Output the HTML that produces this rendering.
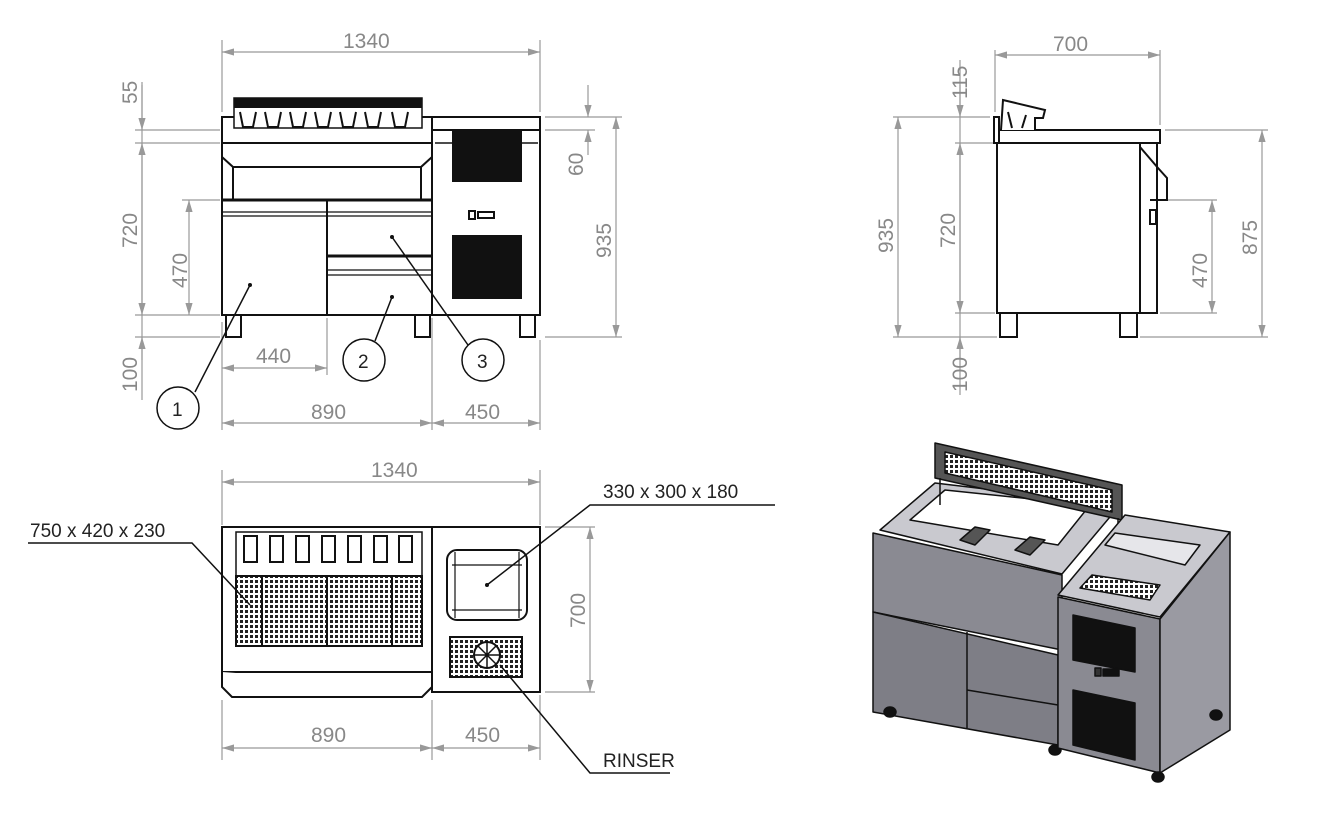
<!DOCTYPE html>
<html><head><meta charset="utf-8"><style>
html,body{margin:0;padding:0;background:#fff;}
svg{display:block;}
text{font-family:"Liberation Sans",sans-serif;}
.d{fill:#888;font-size:21px;}
.t{fill:#222;font-size:19px;}
</style></head><body>
<svg width="1320" height="823" viewBox="0 0 1320 823" xmlns="http://www.w3.org/2000/svg">
<defs>
<marker id="a" viewBox="0 0 10 6" refX="10" refY="3" markerWidth="10" markerHeight="6" orient="auto-start-reverse"><path d="M0,0L10,3L0,6z" fill="#999"/></marker>
<pattern id="grid" width="5" height="5" patternUnits="userSpaceOnUse"><rect width="5" height="5" fill="#fff"/><rect width="3" height="3" fill="#222"/></pattern>
</defs>

<!-- ============ FRONT VIEW ============ -->
<g stroke="#999" stroke-width="1.2" fill="none">
<line x1="222" y1="40" x2="222" y2="112"/><line x1="540" y1="40" x2="540" y2="112"/>
<line x1="222" y1="52" x2="540" y2="52" marker-start="url(#a)" marker-end="url(#a)"/>
<line x1="142" y1="82" x2="142" y2="400"/>
<line x1="142" y1="85" x2="142" y2="130" marker-end="url(#a)"/>
<line x1="142" y1="143" x2="142" y2="315" marker-start="url(#a)" marker-end="url(#a)"/>
<line x1="142" y1="337" x2="142" y2="360" marker-start="url(#a)"/>
<line x1="135" y1="130" x2="220" y2="130"/><line x1="135" y1="143" x2="220" y2="143"/>
<line x1="135" y1="315" x2="220" y2="315"/><line x1="135" y1="337" x2="220" y2="337"/>
<line x1="182" y1="200" x2="220" y2="200"/>
<line x1="189" y1="200" x2="189" y2="315" marker-start="url(#a)" marker-end="url(#a)"/>
<line x1="222" y1="322" x2="222" y2="430"/><line x1="327" y1="318" x2="327" y2="375"/>
<line x1="432" y1="318" x2="432" y2="430"/><line x1="540" y1="340" x2="540" y2="430"/>
<line x1="222" y1="368" x2="327" y2="368" marker-start="url(#a)" marker-end="url(#a)"/>
<line x1="222" y1="423" x2="432" y2="423" marker-start="url(#a)" marker-end="url(#a)"/>
<line x1="432" y1="423" x2="540" y2="423" marker-start="url(#a)" marker-end="url(#a)"/>
<line x1="545" y1="117" x2="622" y2="117"/><line x1="545" y1="130" x2="595" y2="130"/>
<line x1="545" y1="337" x2="622" y2="337"/>
<line x1="588" y1="85" x2="588" y2="117" marker-end="url(#a)"/>
<line x1="588" y1="130" x2="588" y2="155" marker-start="url(#a)"/>
<line x1="616" y1="117" x2="616" y2="337" marker-start="url(#a)" marker-end="url(#a)"/>
</g>
<g class="d">
<text x="343" y="48">1340</text>
<text x="256" y="363">440</text>
<text x="311" y="419">890</text>
<text x="465" y="419">450</text>
<text transform="translate(137,104) rotate(-90)">55</text>
<text transform="translate(137,248) rotate(-90)">720</text>
<text transform="translate(137,392) rotate(-90)">100</text>
<text transform="translate(187,288) rotate(-90)">470</text>
<text transform="translate(583,176) rotate(-90)">60</text>
<text transform="translate(611,258) rotate(-90)">935</text>
</g>
<g stroke="#111" stroke-width="2" fill="#fff">
<rect x="222" y="117" width="210" height="26"/>
<rect x="432" y="117" width="108" height="198"/>
<line x1="432" y1="130" x2="540" y2="130"/>
<line x1="435" y1="143" x2="538" y2="143" stroke-width="1.5"/>
<rect x="222" y="143" width="210" height="172"/>
<path d="M222,157 L233,167 L233,200 M432,157 L421,167 L421,200 M233,167 L421,167" fill="none"/>
<line x1="222" y1="200" x2="432" y2="200" stroke-width="3"/>
<line x1="327" y1="200" x2="327" y2="315"/>
<line x1="222" y1="212" x2="432" y2="212" stroke-width="1.2"/>
<line x1="222" y1="216" x2="432" y2="216" stroke-width="1.2"/>
<line x1="327" y1="256" x2="432" y2="256" stroke-width="3"/>
<line x1="327" y1="270" x2="432" y2="270" stroke-width="1.2"/>
<line x1="327" y1="275" x2="432" y2="275" stroke-width="1.2"/>
<rect x="226" y="315" width="15" height="22"/>
<rect x="415" y="315" width="15" height="22"/>
<rect x="520" y="315" width="15" height="22"/>
<rect x="234" y="98" width="188" height="30" stroke-width="1.5"/>
</g>
<g fill="#111">
<rect x="234" y="98" width="188" height="10"/>
<rect x="452" y="130" width="70" height="52"/>
<rect x="452" y="235" width="70" height="64"/>
<rect x="469" y="211" width="6" height="8" fill="none" stroke="#111" stroke-width="2"/>
<rect x="478" y="212" width="16" height="6" fill="none" stroke="#111" stroke-width="2"/>
</g>
<g fill="none" stroke="#111" stroke-width="2">
<path d="M240,112 l3,15 h10 l3,-15 M265,112 l3,15 h10 l3,-15 M290,112 l3,15 h10 l3,-15 M315,112 l3,15 h10 l3,-15 M340,112 l3,15 h10 l3,-15 M365,112 l3,15 h10 l3,-15 M392,112 l3,15 h10 l3,-15"/>
</g>
<g stroke="#111" stroke-width="1.5" fill="#fff">
<line x1="195" y1="392" x2="250" y2="285"/>
<line x1="375" y1="341" x2="392" y2="297"/>
<line x1="468" y1="345" x2="392" y2="237"/>
<circle cx="178" cy="408" r="21"/><circle cx="364" cy="360" r="21"/><circle cx="483" cy="360" r="21"/>
</g>
<g fill="#111"><circle cx="250" cy="285" r="2"/><circle cx="392" cy="297" r="2"/><circle cx="392" cy="237" r="2"/></g>
<g class="t" font-size="21"><text x="172" y="416">1</text><text x="358" y="368">2</text><text x="477" y="368">3</text></g>

<!-- ============ SIDE VIEW ============ -->
<g stroke="#999" stroke-width="1.2" fill="none">
<line x1="995" y1="50" x2="995" y2="112"/><line x1="1160" y1="50" x2="1160" y2="125"/>
<line x1="995" y1="55" x2="1160" y2="55" marker-start="url(#a)" marker-end="url(#a)"/>
<line x1="893" y1="117" x2="990" y2="117"/><line x1="893" y1="337" x2="997" y2="337"/>
<line x1="955" y1="143" x2="995" y2="143"/><line x1="955" y1="313" x2="995" y2="313"/>
<line x1="898" y1="117" x2="898" y2="337" marker-start="url(#a)" marker-end="url(#a)"/>
<line x1="960" y1="60" x2="960" y2="395"/>
<line x1="960" y1="85" x2="960" y2="117" marker-end="url(#a)"/>
<line x1="960" y1="143" x2="960" y2="313" marker-start="url(#a)" marker-end="url(#a)"/>
<line x1="960" y1="337" x2="960" y2="360" marker-start="url(#a)"/>
<line x1="1165" y1="130" x2="1268" y2="130"/><line x1="1140" y1="337" x2="1268" y2="337"/>
<line x1="1165" y1="200" x2="1217" y2="200"/><line x1="1160" y1="313" x2="1217" y2="313"/>
<line x1="1212" y1="200" x2="1212" y2="313" marker-start="url(#a)" marker-end="url(#a)"/>
<line x1="1262" y1="130" x2="1262" y2="337" marker-start="url(#a)" marker-end="url(#a)"/>
</g>
<g class="d">
<text x="1053" y="51">700</text>
<text transform="translate(967,99) rotate(-90)">115</text>
<text transform="translate(955,248) rotate(-90)">720</text>
<text transform="translate(967,392) rotate(-90)">100</text>
<text transform="translate(893,253) rotate(-90)">935</text>
<text transform="translate(1207,288) rotate(-90)">470</text>
<text transform="translate(1257,255) rotate(-90)">875</text>
</g>
<g stroke="#111" stroke-width="2" fill="#fff">
<rect x="997" y="143" width="143" height="170"/>
<rect x="1140" y="143" width="17" height="170"/>
<rect x="995" y="130" width="165" height="13"/>
<rect x="994" y="117" width="5" height="26"/>
<path d="M1001,130 L1003,100 L1045,110 L1043,118 L1035,118 L1035,130" fill="#fff"/>
<path d="M1008,112 L1012,128 M1026,115 L1022,128" fill="none"/>
<path d="M1140,147 L1158,168 L1167,178 L1167,200 L1150,200" fill="none"/>
<path d="M1150,210 l6,0 l0,14 l-6,0z"/>
<rect x="1000" y="313" width="17" height="24"/>
<rect x="1120" y="313" width="17" height="24"/>
</g>

<!-- ============ PLAN VIEW ============ -->
<g stroke="#999" stroke-width="1.2" fill="none">
<line x1="222" y1="470" x2="222" y2="525"/><line x1="540" y1="470" x2="540" y2="525"/>
<line x1="222" y1="482" x2="540" y2="482" marker-start="url(#a)" marker-end="url(#a)"/>
<line x1="222" y1="700" x2="222" y2="760"/><line x1="432" y1="700" x2="432" y2="760"/><line x1="540" y1="695" x2="540" y2="760"/>
<line x1="222" y1="748" x2="432" y2="748" marker-start="url(#a)" marker-end="url(#a)"/>
<line x1="432" y1="748" x2="540" y2="748" marker-start="url(#a)" marker-end="url(#a)"/>
<line x1="545" y1="527" x2="595" y2="527"/><line x1="545" y1="692" x2="595" y2="692"/>
<line x1="590" y1="527" x2="590" y2="692" marker-start="url(#a)" marker-end="url(#a)"/>
</g>
<g class="d">
<text x="371" y="477">1340</text>
<text x="311" y="742">890</text>
<text x="465" y="742">450</text>
<text transform="translate(585,628) rotate(-90)">700</text>
</g>
<g stroke="#111" stroke-width="2" fill="#fff">
<path d="M222,527 H432 V672 H222 Z"/>
<path d="M222,672 L222,687 L232,697 L422,697 L432,687"/>
<rect x="432" y="527" width="108" height="165"/>
<rect x="236" y="532" width="186" height="44" stroke-width="1.5"/>
<rect x="236" y="576" width="186" height="70" fill="url(#grid)"/>
<rect x="447" y="550" width="80" height="70" rx="10"/>
<line x1="452" y1="565" x2="522" y2="565" stroke-width="1.2"/><line x1="452" y1="610" x2="522" y2="610" stroke-width="1.2"/>
<line x1="455" y1="552" x2="455" y2="618" stroke-width="1.2"/><line x1="519" y1="552" x2="519" y2="618" stroke-width="1.2"/>
<rect x="450" y="637" width="72" height="40" fill="url(#grid)"/>
<circle cx="487" cy="655" r="13"/>
<path d="M474,655 H500 M487,642 V668 M478,646 L496,664 M496,646 L478,664" fill="none" stroke-width="1.5"/>
</g>
<g fill="none" stroke="#111" stroke-width="2">
<line x1="262" y1="576" x2="262" y2="646"/><line x1="327" y1="576" x2="327" y2="646"/><line x1="392" y1="576" x2="392" y2="646"/>
<path d="M244,536 v26 h13 v-26z M270,536 v26 h13 v-26z M296,536 v26 h13 v-26z M322,536 v26 h13 v-26z M348,536 v26 h13 v-26z M374,536 v26 h13 v-26z M399,536 v26 h13 v-26z"/>
</g>
<g stroke="#111" stroke-width="1.5" fill="none">
<polyline points="28,543 192,543 250,605"/>
<polyline points="775,505 590,505 487,585"/>
<polyline points="670,773 590,773 500,665"/>
</g>
<g fill="#111"><circle cx="487" cy="585" r="2"/></g>
<g class="t">
<text x="30" y="537">750 x 420 x 230</text>
<text x="603" y="498">330 x 300 x 180</text>
<text x="603" y="767">RINSER</text>
</g>

<!-- ============ ISO VIEW ============ -->
<g stroke="#111" stroke-width="1.5" stroke-linejoin="round">
<polygon points="880,530 935,483 1120,505 1062,574" fill="#c9c9cf"/>
<polygon points="910,520 945,490 1090,505 1058,545" fill="#fff"/>
<polygon points="960,540 975,527 990,530 975,545" fill="#555"/>
<polygon points="1015,550 1030,537 1045,540 1030,555" fill="#555"/>
<polygon points="873,533 1062,575 1062,650 873,612" fill="#8a8a92"/>
<polygon points="873,612 1058,655 1058,745 873,712" fill="#7e7e86"/>
<line x1="967" y1="632" x2="967" y2="728"/>
<line x1="967" y1="690" x2="1058" y2="705"/>
<ellipse cx="890" cy="712" rx="6" ry="5" fill="#111"/>
<ellipse cx="1055" cy="750" rx="6" ry="5" fill="#111"/>
<!-- rack -->
<polygon points="935,443 1122,485 1122,520 935,478" fill="#555"/>
<polygon points="945,452 1112,490 1112,512 945,473" fill="url(#grid)"/>
<line x1="940" y1="478" x2="940" y2="505"/><line x1="1118" y1="518" x2="1118" y2="535"/>
<!-- right unit -->
<polygon points="1058,595 1125,515 1230,532 1160,617" fill="#c9c9cf"/>
<polygon points="1105,545 1115,533 1200,545 1185,565" fill="#e6e6ea"/>
<polygon points="1080,588 1092,575 1160,585 1150,600" fill="url(#grid)"/>
<polygon points="1058,597 1160,619 1160,773 1058,748" fill="#8a8a92"/>
<polygon points="1160,619 1230,532 1230,730 1160,773" fill="#9a9aa2"/>
<polygon points="1073,615 1135,628 1135,672 1073,660" fill="#111"/>
<polygon points="1073,690 1135,703 1135,760 1073,745" fill="#111"/>
<rect x="1095" y="668" width="6" height="8" fill="#333"/>
<rect x="1103" y="669" width="16" height="7" fill="#111"/>
<ellipse cx="1158" cy="777" rx="6" ry="5" fill="#111"/>
<ellipse cx="1216" cy="715" rx="6" ry="5" fill="#111"/>
</g>
</svg>
</body></html>
